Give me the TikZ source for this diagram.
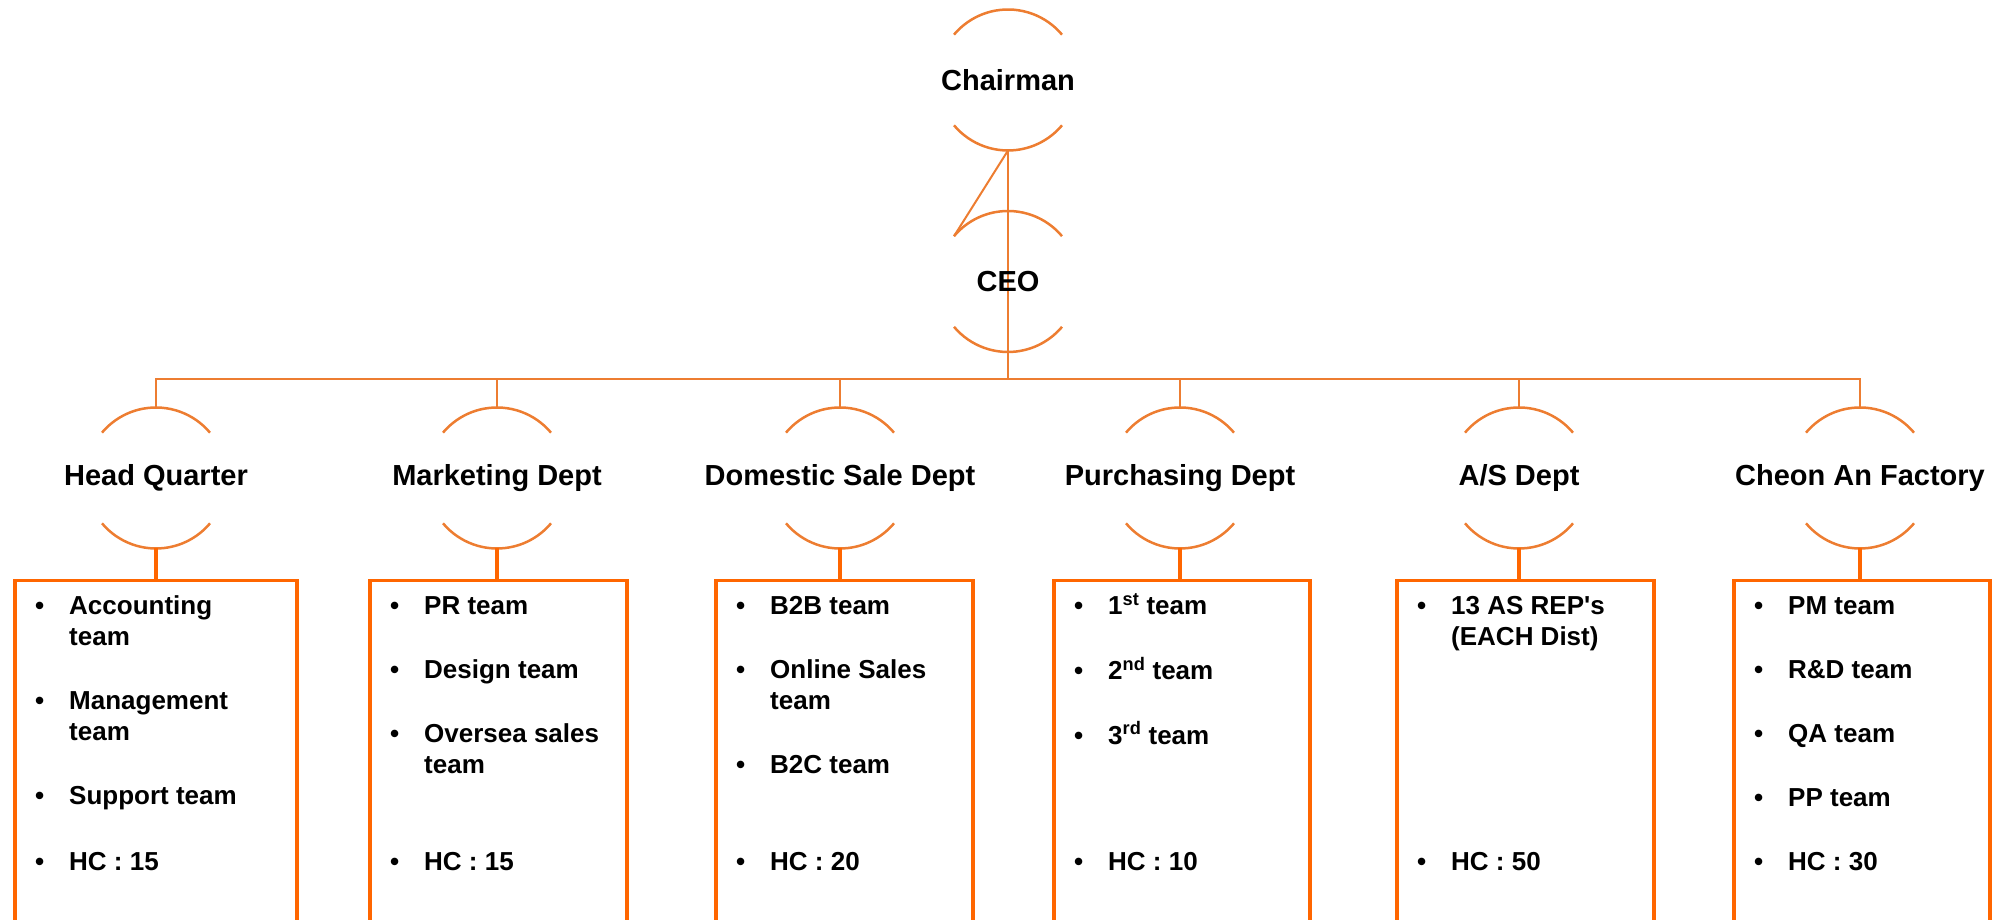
\documentclass[tikz,border=0pt]{standalone}
\usepackage{fontspec}
\setmainfont{Liberation Sans}
\usetikzlibrary{positioning,calc,backgrounds}

\definecolor{lineorange}{HTML}{ED7D31}
\definecolor{boxorange}{HTML}{FF6600}

\begin{document}
\begin{tikzpicture}[x=1pt, y=1pt]
	\tikzstyle{post}=[circle, minimum size=141pt, inner sep=0pt, outer sep=0pt, font=\fontsize{29}{33}\selectfont\bfseries];
	\tikzstyle{teambox}=[draw=boxorange, line width=3.5pt, anchor=north west, inner sep=0pt, minimum height=420pt];
	\tikzstyle{teams}=[anchor=base west, inner sep=0pt, font=\fontsize{26}{31}\selectfont\bfseries];
	\tikzstyle{link}=[draw=lineorange, line width=2pt];
	\tikzstyle{stub}=[draw=boxorange, line width=4pt];
	\tikzstyle{rim}=[draw=lineorange, line width=2.5pt];

	\useasboundingbox (0,0) rectangle (2002,920);
	\clip (0,0) rectangle (2002,920);

	\node[post] (chair) at (1008,840) {\makebox[0pt]{Chairman}};
	\node[post] (ceo) at (1008,638.5) {\makebox[0pt]{CEO}};
	\coordinate (bus) at (1008,541);

	\node[post] (hq) at (156,442) {\makebox[0pt]{Head Quarter}};
	\node[post] (mkt) at (497,442) {\makebox[0pt]{Marketing Dept}};
	\node[post] (dom) at (840,442) {\makebox[0pt]{Domestic Sale Dept}};
	\node[post] (pur) at (1180,442) {\makebox[0pt]{Purchasing Dept}};
	\node[post] (as) at (1519,442) {\makebox[0pt]{A/S Dept}};
	\node[post] (fac) at (1860,442) {\makebox[0pt]{Cheon An Factory}};

	\node[teambox, minimum width=282pt] (box-hq) at (13,341) {};
	\node[teambox, minimum width=257pt] (box-mkt) at (368,341) {};
	\node[teambox, minimum width=257pt] (box-dom) at (714,341) {};
	\node[teambox, minimum width=256pt] (box-pur) at (1052,341) {};
	\node[teambox, minimum width=257pt] (box-as) at (1395,341) {};
	\node[teambox, minimum width=256pt] (box-fac) at (1732,341) {};

	\node[teams] (list-hq) at (35,305) {\begin{tabular}[t]{@{}p{34pt}@{}l@{}}
		\textbullet & Accounting\\ & team\\[33pt]
		\textbullet & Management\\ & team\\[33pt]
		\textbullet & Support team\end{tabular}};
	\node[teams] (list-mkt) at (390,305) {\begin{tabular}[t]{@{}p{34pt}@{}l@{}}
		\textbullet & PR team\\[33pt]
		\textbullet & Design team\\[33pt]
		\textbullet & Oversea sales\\ & team\end{tabular}};
	\node[teams] (list-dom) at (736,305) {\begin{tabular}[t]{@{}p{34pt}@{}l@{}}
		\textbullet & B2B team\\[33pt]
		\textbullet & Online Sales\\ & team\\[33pt]
		\textbullet & B2C team\end{tabular}};
	\node[teams] (list-pur) at (1074,305) {\begin{tabular}[t]{@{}p{34pt}@{}l@{}}
		\textbullet & 1\textsuperscript{st} team\\[33pt]
		\textbullet & 2\textsuperscript{nd} team\\[33pt]
		\textbullet & 3\textsuperscript{rd} team\end{tabular}};
	\node[teams] (list-as) at (1417,305) {\begin{tabular}[t]{@{}p{34pt}@{}l@{}}
		\textbullet & 13 AS REP\textquotesingle s\\ & (EACH Dist)\end{tabular}};
	\node[teams] (list-fac) at (1754,305) {\begin{tabular}[t]{@{}p{34pt}@{}l@{}}
		\textbullet & PM team\\[33pt]
		\textbullet & R\&D team\\[33pt]
		\textbullet & QA team\\[33pt]
		\textbullet & PP team\end{tabular}};

	\node[teams] (hc-hq) at (35,49) {\makebox[34pt][l]{\textbullet}HC : 15};
	\node[teams] (hc-mkt) at (390,49) {\makebox[34pt][l]{\textbullet}HC : 15};
	\node[teams] (hc-dom) at (736,49) {\makebox[34pt][l]{\textbullet}HC : 20};
	\node[teams] (hc-pur) at (1074,49) {\makebox[34pt][l]{\textbullet}HC : 10};
	\node[teams] (hc-as) at (1417,49) {\makebox[34pt][l]{\textbullet}HC : 50};
	\node[teams] (hc-fac) at (1754,49) {\makebox[34pt][l]{\textbullet}HC : 30};

	\begin{scope}[on background layer]
		\foreach \n in {chair,ceo,hq,mkt,dom,pur,as,fac} {
			\draw[rim] (\n.40) arc[start angle=40, end angle=140, radius=70.5];
			\draw[rim] (\n.220) arc[start angle=220, end angle=320, radius=70.5];
		}
		\draw[link] (chair.south) -- (ceo.140);
		\draw[link] (chair.south) -- (bus);
		\foreach \n in {hq,mkt,dom,pur,as,fac} {
			\draw[link] (bus) -| (\n.north);
			\draw[stub] (\n.south) -- (\n.south |- box-\n.north);
		}
	\end{scope}
\end{tikzpicture}
\end{document}
